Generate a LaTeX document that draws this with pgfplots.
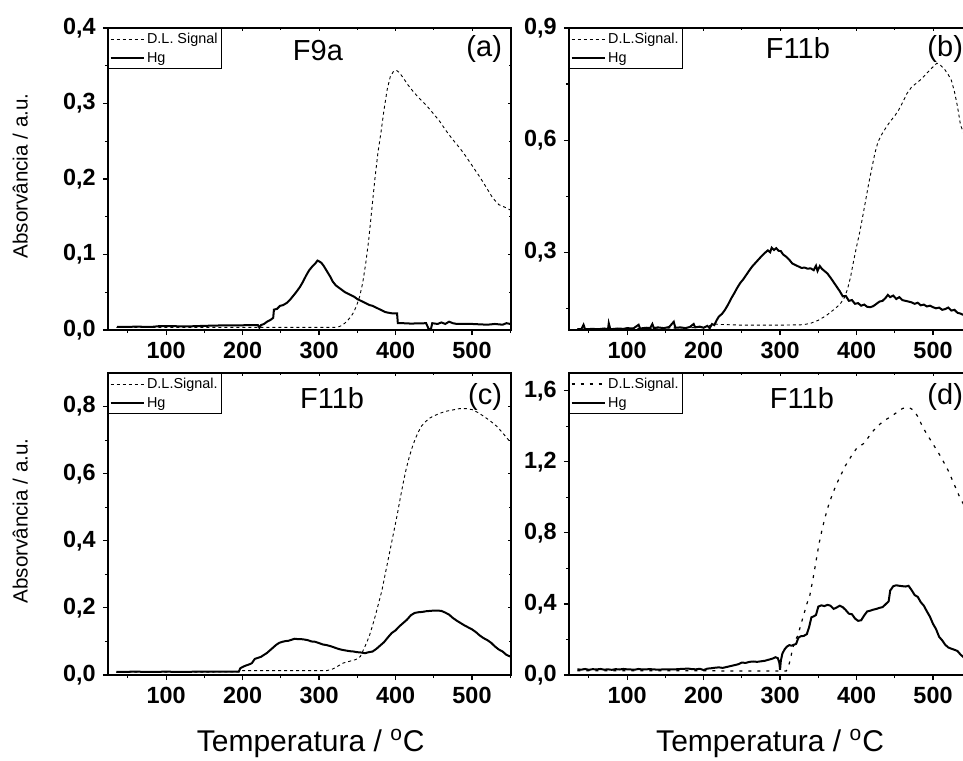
\documentclass[border=0pt]{standalone}
\usepackage{pgfplots}
\pgfplotsset{compat=1.18}
\usepackage{fontspec}
\setmainfont{Liberation Sans}
\tikzset{ttl/.style={font=\fontsize{14.5}{16}\selectfont}}
\pgfplotsset{
  frame/.style={
    scale only axis, width=201.5pt, height=151pt,
    xmin=24, xmax=551,
    xtick={100,200,300,400,500}, minor xtick={50,150,250,350,450,550},
    axis line style={line width=0.75pt},
  },
  panel/.style={
    frame,
    tick align=outside, xtick pos=bottom, ytick pos=left,
    major tick length=2.6pt, minor tick length=1.6pt,
    every tick/.style={black, line width=0.6pt},
    /pgf/number format/assume math mode=true,
    ticklabel style={font=\fontsize{11.7}{13}\selectfont\bfseries},
    yticklabel style={/pgf/number format/fixed, /pgf/number format/fixed zerofill, /pgf/number format/precision=1, /pgf/number format/use comma},
    xticklabel style={/pgf/number format/fixed, /pgf/number format/precision=0},
    legend style={at={(0,1)}, anchor=north west, draw=black, line width=0.5pt,
      font=\fontsize{7.2}{8}\selectfont, inner xsep=0.5pt, inner ysep=0.5pt, row sep=0pt,
      nodes={inner xsep=1.3pt, inner ysep=0.6pt, text height=6.5pt, text depth=1.8pt}, cells={anchor=west}},
    legend cell align=left,
    legend image code/.code={\draw[#1] (0pt,0pt) -- (16.5pt,0pt);},
    ylabel style={at={(axis description cs:-0.218,0.51)}, anchor=center, font=\fontsize{10.3}{12}\selectfont},
    xlabel style={at={(axis description cs:0.503,-0.226)}, anchor=center, font=\fontsize{15}{17}\selectfont},
  },
  mirror/.style={
    frame, tick align=inside, xtick pos=top, ytick pos=right,
    major tick length=1.6pt, minor tick length=1pt,
    every tick/.style={black, line width=0.5pt},
    xticklabels={}, yticklabels={},
  },
  dl/.style={black, line width=0.45pt, dash pattern=on 1.5pt off 1.5pt},
  dld/.style={black, line width=0.6pt, dash pattern=on 1.5pt off 3pt},
  hg/.style={black, line width=1pt},
}
\begin{document}
\begin{tikzpicture}
\useasboundingbox (0,0) rectangle (481.5pt,380pt);
\clip (0,0) rectangle (481.5pt,380pt);
% mirror ticks (top/right, inward)
\begin{axis}[mirror, at={(54pt,215pt)}, anchor=south west, ymin=0, ymax=0.4, ytick={0,0.1,0.2,0.3,0.4}, minor ytick={0.05,0.15,0.25,0.35}]
\end{axis}
\begin{axis}[mirror, at={(284.5pt,215pt)}, anchor=south west, ymin=0.092, ymax=0.9, ytick={0.3,0.6,0.9}, minor ytick={0.15,0.45,0.75}]
\end{axis}
\begin{axis}[mirror, at={(54pt,42.5pt)}, anchor=south west, ymin=0, ymax=0.9, ytick={0,0.2,0.4,0.6,0.8}, minor ytick={0.1,0.3,0.5,0.7}]
\end{axis}
\begin{axis}[mirror, at={(284.5pt,42.5pt)}, anchor=south west, ymin=0, ymax=1.7, ytick={0,0.4,0.8,1.2,1.6}, minor ytick={0.2,0.6,1.0,1.4}]
\end{axis}
% ---------------- (a)
\begin{axis}[panel, at={(54pt,215pt)}, anchor=south west,
  ymin=0, ymax=0.4, ytick={0,0.1,0.2,0.3,0.4}, minor ytick={0.05,0.15,0.25,0.35},
  ylabel={Absorvância / a.u.}]
\addplot[dl] coordinates {(35,0.0035)(100,0.0035)(200,0.0035)(320,0.0035)(325,0.004)(330,0.006)(336,0.011)(341,0.017)(345,0.023)(349,0.032)(353,0.044)(357,0.062)(361,0.088)(365,0.120)(369,0.160)(373,0.200)(377,0.235)(381,0.262)(385,0.292)(389,0.318)(393,0.335)(397,0.342)(401,0.344)(405,0.341)(410,0.334)(416,0.325)(423,0.316)(430,0.308)(440,0.298)(450,0.286)(458,0.276)(466,0.264)(475,0.252)(484,0.241)(492,0.230)(500,0.218)(510,0.203)(518,0.190)(527,0.175)(535,0.166)(542,0.163)(550,0.159)};
\addlegendentry{D.L. Signal}
\addplot[hg] coordinates {(36,0.004)(50,0.004)(60,0.0045)(80,0.004)(90,0.005)(110,0.005)(130,0.0048)(150,0.0055)(170,0.006)(190,0.006)(210,0.0065)(220,0.0065)(222,0.003)(224,0.0065)(228,0.008)(232,0.011)(236,0.013)(240,0.016)(241,0.027)(245,0.028)(249,0.032)(253,0.033)(258,0.036)(262,0.040)(266,0.045)(270,0.050)(275,0.057)(279,0.064)(283,0.072)(287,0.079)(291,0.084)(295,0.088)(298,0.092)(300,0.091)(303,0.089)(306,0.085)(309,0.080)(312,0.075)(315,0.070)(318,0.064)(322,0.059)(326,0.056)(330,0.053)(334,0.050)(338,0.048)(342,0.046)(346,0.044)(350,0.041)(354,0.039)(358,0.037)(362,0.035)(366,0.033)(370,0.032)(374,0.030)(378,0.028)(382,0.026)(386,0.024)(390,0.023)(396,0.022)(402,0.022)(403,0.009)(410,0.009)(420,0.0085)(440,0.009)(443,0.002)(446,0.0)(448,0.009)(455,0.008)(460,0.010)(465,0.008)(470,0.011)(475,0.009)(480,0.008)(500,0.008)(520,0.007)(530,0.008)(540,0.007)(545,0.009)(550,0.008)};
\addlegendentry{Hg}
\node[ttl] at (rel axis cs:0.521,0.927) {F9a};
\node[ttl, anchor=east] at (rel axis cs:0.995,0.93) {(a)};
\end{axis}
% ---------------- (b)
\begin{axis}[panel, at={(284.5pt,215pt)}, anchor=south west,
  ymin=0.092, ymax=0.9, ytick={0.3,0.6,0.9}, minor ytick={0.15,0.45,0.75}]
\addplot[dl] coordinates {(35,0.095)(100,0.096)(150,0.097)(200,0.099)(215,0.108)(220,0.107)(250,0.105)(300,0.105)(330,0.106)(340,0.110)(350,0.118)(360,0.130)(370,0.146)(378,0.160)(384,0.178)(388,0.200)(392,0.232)(396,0.275)(400,0.315)(404,0.352)(408,0.395)(412,0.440)(416,0.485)(420,0.525)(424,0.565)(428,0.595)(432,0.612)(438,0.632)(444,0.650)(450,0.665)(455,0.680)(460,0.700)(466,0.725)(472,0.742)(478,0.752)(484,0.762)(490,0.775)(496,0.788)(502,0.800)(505,0.806)(510,0.800)(515,0.790)(520,0.775)(524,0.760)(528,0.730)(532,0.690)(536,0.640)(540,0.620)(545,0.600)(550,0.580)};
\addlegendentry{D.L.Signal.}
\addplot[hg] coordinates {(35,0.094)(40,0.094)(43,0.106)(45,0.094)(55,0.095)(62,0.094)(70,0.096)(75,0.094)(76,0.110)(78,0.094)(88,0.096)(95,0.095)(100,0.097)(108,0.096)(115,0.106)(117,0.096)(125,0.098)(130,0.097)(133,0.108)(135,0.097)(140,0.099)(148,0.097)(155,0.100)(161,0.114)(163,0.098)(170,0.099)(176,0.097)(182,0.100)(187,0.108)(189,0.099)(195,0.101)(200,0.098)(205,0.103)(208,0.097)(211,0.108)(214,0.105)(217,0.118)(220,0.128)(224,0.135)(228,0.146)(232,0.160)(236,0.176)(240,0.190)(244,0.205)(248,0.218)(252,0.228)(256,0.240)(260,0.252)(264,0.263)(268,0.272)(272,0.281)(276,0.290)(280,0.298)(284,0.305)(287,0.300)(289,0.312)(292,0.306)(295,0.311)(298,0.304)(301,0.303)(304,0.294)(308,0.288)(312,0.280)(316,0.270)(320,0.266)(324,0.262)(328,0.258)(332,0.259)(336,0.256)(340,0.257)(344,0.252)(347,0.264)(349,0.250)(352,0.263)(355,0.255)(358,0.250)(362,0.243)(366,0.232)(370,0.220)(374,0.208)(378,0.196)(382,0.182)(386,0.183)(390,0.170)(394,0.172)(398,0.162)(402,0.164)(406,0.157)(410,0.160)(414,0.154)(418,0.153)(422,0.156)(426,0.162)(430,0.168)(434,0.170)(438,0.178)(441,0.186)(444,0.180)(448,0.184)(452,0.175)(456,0.180)(460,0.172)(464,0.170)(468,0.168)(472,0.166)(476,0.162)(480,0.165)(484,0.158)(488,0.160)(492,0.155)(496,0.157)(500,0.153)(504,0.150)(508,0.152)(512,0.146)(516,0.148)(520,0.152)(524,0.144)(528,0.146)(532,0.138)(536,0.136)(540,0.132)(545,0.131)(550,0.128)};
\addlegendentry{Hg}
\node[ttl] at (rel axis cs:0.568,0.934) {F11b};
\node[ttl, anchor=east] at (rel axis cs:0.995,0.93) {(b)};
\end{axis}
% ---------------- (c)
\begin{axis}[panel, at={(54pt,42.5pt)}, anchor=south west,
  ymin=0, ymax=0.9, ytick={0,0.2,0.4,0.6,0.8}, minor ytick={0.1,0.3,0.5,0.7},
  ylabel={Absorvância / a.u.}, xlabel={Temperatura / \textsuperscript{o}C}]
\addplot[dl] coordinates {(35,0.008)(195,0.009)(200,0.013)(310,0.013)(318,0.018)(325,0.027)(332,0.036)(340,0.041)(348,0.046)(354,0.055)(358,0.075)(362,0.095)(366,0.118)(370,0.148)(374,0.180)(378,0.215)(382,0.250)(386,0.295)(390,0.340)(394,0.385)(398,0.430)(402,0.475)(406,0.525)(410,0.572)(414,0.615)(418,0.650)(422,0.680)(426,0.705)(430,0.725)(434,0.742)(438,0.752)(444,0.765)(450,0.772)(458,0.780)(466,0.786)(475,0.790)(484,0.794)(492,0.794)(500,0.791)(508,0.782)(516,0.770)(524,0.757)(532,0.742)(540,0.722)(546,0.705)(550,0.695)};
\addlegendentry{D.L.Signal.}
\addplot[hg] coordinates {(35,0.009)(60,0.010)(80,0.009)(100,0.010)(120,0.009)(140,0.010)(160,0.010)(180,0.010)(195,0.010)(197,0.020)(200,0.024)(204,0.028)(208,0.031)(212,0.035)(216,0.048)(220,0.051)(224,0.054)(228,0.060)(232,0.066)(236,0.074)(240,0.082)(244,0.090)(248,0.096)(252,0.099)(256,0.101)(260,0.102)(264,0.105)(268,0.108)(272,0.107)(276,0.107)(280,0.106)(285,0.104)(290,0.100)(295,0.099)(300,0.095)(305,0.091)(310,0.089)(315,0.086)(320,0.082)(325,0.078)(330,0.075)(335,0.073)(340,0.071)(345,0.070)(350,0.068)(355,0.067)(360,0.065)(365,0.068)(370,0.070)(375,0.078)(380,0.088)(385,0.098)(390,0.112)(395,0.125)(400,0.133)(405,0.145)(410,0.155)(415,0.165)(420,0.178)(425,0.185)(430,0.187)(435,0.188)(440,0.190)(445,0.191)(450,0.192)(455,0.192)(460,0.191)(465,0.186)(470,0.180)(475,0.170)(480,0.162)(485,0.155)(490,0.148)(495,0.142)(500,0.136)(505,0.128)(510,0.118)(515,0.110)(520,0.104)(525,0.096)(530,0.085)(535,0.076)(540,0.070)(545,0.060)(550,0.055)};
\addlegendentry{Hg}
\node[ttl] at (rel axis cs:0.556,0.917) {F11b};
\node[ttl, anchor=east] at (rel axis cs:0.995,0.92) {(c)};
\end{axis}
% ---------------- (d)
\begin{axis}[panel, at={(284.5pt,42.5pt)}, anchor=south west,
  ymin=0, ymax=1.7, ytick={0,0.4,0.8,1.2,1.6}, minor ytick={0.2,0.6,1.0,1.4},
  xlabel={Temperatura / \textsuperscript{o}C}, xlabel style={at={(axis description cs:0.499,-0.226)}}]
\addplot[dld] coordinates {(35,0.024)(100,0.024)(200,0.024)(250,0.022)(280,0.022)(308,0.022)(311,0.050)(313,0.080)(316,0.140)(319,0.190)(323,0.220)(327,0.280)(331,0.340)(335,0.400)(339,0.450)(343,0.540)(347,0.640)(351,0.740)(355,0.820)(359,0.890)(363,0.950)(367,1.000)(371,1.045)(375,1.085)(380,1.130)(385,1.175)(390,1.210)(395,1.245)(400,1.275)(405,1.290)(410,1.305)(415,1.335)(420,1.365)(425,1.390)(430,1.410)(435,1.428)(440,1.442)(445,1.455)(450,1.470)(455,1.485)(460,1.500)(465,1.505)(470,1.502)(475,1.490)(480,1.455)(485,1.410)(490,1.370)(495,1.335)(500,1.300)(505,1.265)(510,1.230)(515,1.190)(520,1.150)(525,1.100)(530,1.050)(535,1.000)(540,0.960)(545,0.920)(550,0.880)};
\addlegendentry{D.L.Signal.}
\addplot[hg] coordinates {(35,0.032)(40,0.030)(45,0.034)(50,0.029)(55,0.033)(60,0.031)(65,0.034)(70,0.030)(75,0.032)(80,0.029)(85,0.033)(90,0.031)(95,0.034)(100,0.032)(110,0.030)(115,0.034)(120,0.031)(130,0.033)(140,0.030)(150,0.032)(160,0.031)(170,0.034)(180,0.036)(185,0.033)(190,0.032)(195,0.035)(200,0.028)(205,0.036)(210,0.038)(215,0.041)(220,0.043)(225,0.040)(230,0.045)(235,0.050)(240,0.055)(245,0.060)(250,0.070)(255,0.068)(260,0.074)(265,0.076)(270,0.074)(275,0.077)(280,0.080)(285,0.086)(290,0.092)(294,0.100)(297,0.095)(299,0.070)(300,0.030)(301,0.080)(303,0.120)(306,0.145)(309,0.160)(312,0.168)(315,0.165)(318,0.170)(321,0.175)(324,0.210)(327,0.218)(331,0.220)(335,0.230)(338,0.270)(341,0.325)(344,0.330)(347,0.338)(350,0.385)(354,0.392)(358,0.388)(362,0.395)(366,0.390)(370,0.372)(374,0.380)(378,0.390)(382,0.382)(386,0.365)(390,0.345)(394,0.342)(398,0.318)(402,0.305)(406,0.308)(410,0.335)(414,0.358)(418,0.362)(422,0.368)(426,0.372)(430,0.378)(434,0.382)(438,0.398)(442,0.415)(444,0.475)(448,0.500)(452,0.505)(456,0.502)(460,0.500)(464,0.498)(468,0.502)(472,0.478)(476,0.450)(480,0.440)(484,0.410)(488,0.390)(492,0.358)(496,0.328)(500,0.288)(504,0.258)(508,0.215)(512,0.195)(516,0.170)(520,0.155)(524,0.148)(528,0.142)(532,0.135)(536,0.115)(540,0.100)(545,0.090)(550,0.085)};
\addlegendentry{Hg}
\node[ttl] at (rel axis cs:0.578,0.917) {F11b};
\node[ttl, anchor=east] at (rel axis cs:0.995,0.92) {(d)};
\end{axis}
\end{tikzpicture}
\end{document}
